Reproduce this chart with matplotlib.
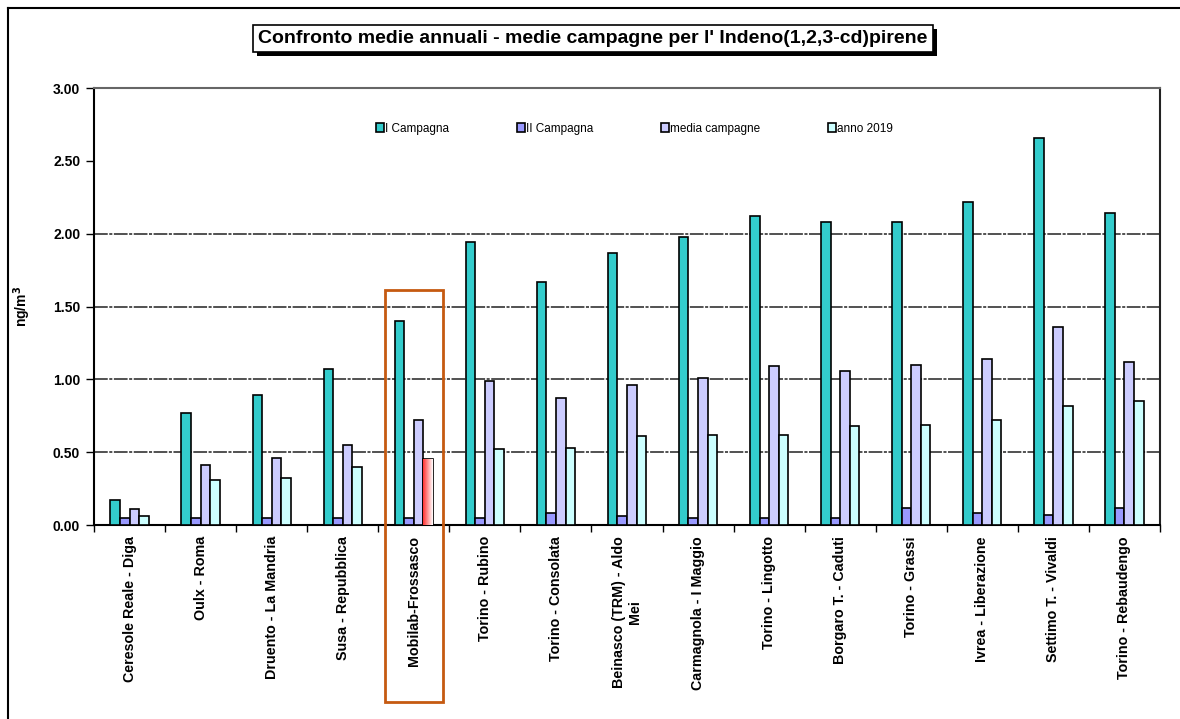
import numpy as np
import matplotlib
matplotlib.use('Agg')
import matplotlib.pyplot as plt
from matplotlib.patches import Rectangle
from matplotlib.lines import Line2D

plt.rcParams['font.family'] = ['Liberation Sans', 'DejaVu Sans']

stations = ['Ceresole Reale - Diga', 'Oulx - Roma', 'Druento - La Mandria', 'Susa - Repubblica',
            'Mobilab-Frossasco', 'Torino - Rubino', 'Torino - Consolata', 'Beinasco (TRM) - Aldo\nMei',
            'Carmagnola - I Maggio', 'Torino - Lingotto', 'Borgaro T. - Caduti', 'Torino - Grassi',
            'Ivrea - Liberazione', 'Settimo T. - Vivaldi', 'Torino - Rebaudengo']
camp_1 = [0.17, 0.77, 0.89, 1.07, 1.40, 1.94, 1.67, 1.87, 1.98, 2.12, 2.08, 2.08, 2.22, 2.66, 2.14]
camp_2 = [0.05, 0.05, 0.05, 0.05, 0.05, 0.05, 0.08, 0.06, 0.05, 0.05, 0.05, 0.12, 0.08, 0.07, 0.12]
media = [0.11, 0.41, 0.46, 0.55, 0.72, 0.99, 0.87, 0.96, 1.01, 1.09, 1.06, 1.10, 1.14, 1.36, 1.12]
anno_2019 = [0.06, 0.31, 0.32, 0.40, 0.45, 0.52, 0.53, 0.61, 0.62, 0.62, 0.68, 0.69, 0.72, 0.82, 0.85]
series = ['I Campagna', 'II Campagna', 'media campagne', 'anno 2019']
colors = ['#33CCCC', '#9999FF', '#CCCCFF', '#CCFFFF']
highlight = 4  # Mobilab-Frossasco

fig = plt.figure(figsize=(11.8, 7.19), dpi=100)
ax = fig.add_axes([0.0797, 0.2698, 0.9033, 0.6078])

x = np.arange(len(stations))
w = 0.135
for i, (vals, col, name) in enumerate(zip([camp_1, camp_2, media, anno_2019], colors, series)):
    bars = ax.bar(x + (i - 1.5) * w, vals, w, color=col, edgecolor='black', linewidth=1.2,
                  label=name, zorder=3)
    if i == 3:
        # red gradient on the mobile lab bar
        b = bars[highlight]
        bx = b.get_x()
        grad = np.linspace(0, 1, 50).reshape(1, -1)
        cmap = matplotlib.colors.LinearSegmentedColormap.from_list('rg', ['#FF3333', '#FFFFFF'])
        im = ax.imshow(grad, extent=[bx, bx + w, 0, b.get_height()], aspect='auto', cmap=cmap,
                       zorder=3.5)
        im.set_clip_path(b)

ax.set_xlim(-0.5, len(stations) - 0.5)
ax.set_ylim(0, 3.0)
yt = np.arange(0, 3.01, 0.5)
ax.set_yticks(yt)
ax.set_yticklabels([f'{v:.2f}' for v in yt], fontsize=10, fontweight='bold')
for v in [0.5, 1.0, 1.5, 2.0]:
    ax.axhline(v, color='#222222', linestyle=(0, (9, 1, 2, 1)), linewidth=1.1, zorder=1)

ax.set_xticks(x)
ax.set_xticklabels(stations, rotation=90, fontsize=10.3, fontweight='bold', va='top', linespacing=1.15)
ax.tick_params(axis='x', length=0, pad=8)
ax.set_xticks(np.arange(-0.5, len(stations), 1), minor=True)
ax.tick_params(axis='x', which='minor', length=5, direction='out', width=1)
ax.tick_params(axis='y', length=6, direction='out', width=1, pad=4)
for s in ['left', 'bottom', 'right']:
    ax.spines[s].set_linewidth(1.5)
ax.spines['top'].set_color('#666666')
ax.spines['top'].set_linewidth(1.5)
ax.spines['right'].set_color('#222222')

ax.set_ylabel('ng/m$^\\mathbf{3}$', fontsize=10, fontweight='bold', labelpad=14)

leg = ax.legend(loc='upper center', bbox_to_anchor=(0.507, 0.945), ncol=4, frameon=False,
                fontsize=8.5, handlelength=0.7, handleheight=0.7, handletextpad=0.1,
                columnspacing=5.7)

# highlight box around the mobile lab
ax.add_patch(Rectangle((highlight - 0.41, -1.215), 0.82, 2.825, transform=ax.transData, fill=False,
                       edgecolor='#C55A11', linewidth=2, clip_on=False, zorder=6))

# title box with shadow
fig.patches.append(Rectangle((0.2178, 0.9222), 0.5763, 0.0376, transform=fig.transFigure,
                             facecolor='black', edgecolor='none'))
fig.patches.append(Rectangle((0.2144, 0.9277), 0.5763, 0.0376, transform=fig.transFigure,
                             facecolor='white', edgecolor='black', linewidth=1.2))
fig.text(0.5025, 0.9465, "Confronto medie annuali - medie campagne per l' Indeno(1,2,3-cd)pirene",
         ha='center', va='center', fontsize=14, fontweight='bold')

# outer frame (top and left only)
fig.add_artist(Line2D([0.007, 1.0], [0.989, 0.989], transform=fig.transFigure, color='black', lw=1.5))
fig.add_artist(Line2D([0.007, 0.007], [0.0, 0.989], transform=fig.transFigure, color='black', lw=1.5))

fig.savefig('out.png', dpi=100)
